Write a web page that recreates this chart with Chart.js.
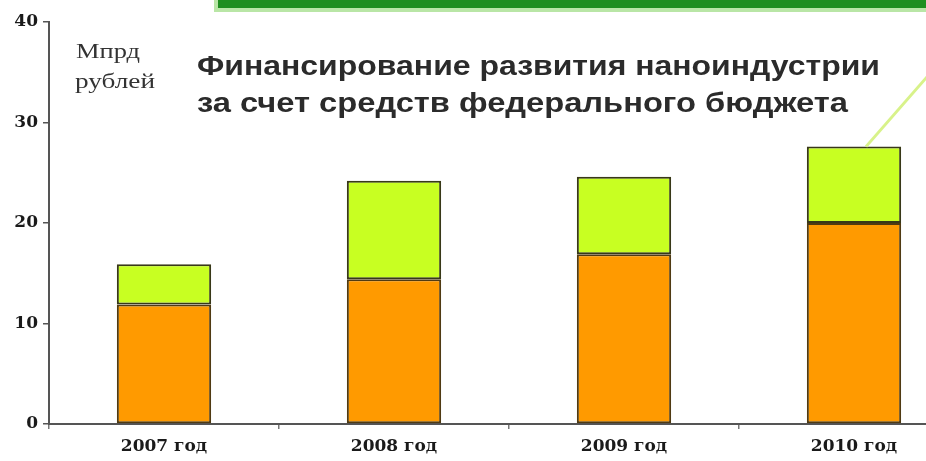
<!DOCTYPE html>
<html>
<head>
<meta charset="utf-8">
<script src="https://cdn.jsdelivr.net/npm/chart.js@4.4.1/dist/chart.umd.min.js"></script>
<style>
  html, body { margin: 0; padding: 0; background: #fff; }
  #wrap { position: relative; width: 926px; height: 461px; overflow: hidden; }
  #box { position: absolute; left: 0; top: 0; width: 970px; height: 461px; }
</style>
</head>
<body>
<div id="wrap"><div id="box"><canvas id="c"></canvas></div></div>
<script>
// Federal budget funding of the nanoindustry, bn roubles
const categories = ['2007 год', '2008 год', '2009 год', '2010 год'];
const baseFunding = [11.9, 14.4, 16.9, 20.0];
const extraFunding = [4.0, 9.8, 7.7, 7.6];
const yTicks = [0, 10, 20, 30, 40];
const titleLines = ['Финансирование развития наноиндустрии', 'за счет средств федерального бюджета'];
const unitLines = ['Мпрд', 'рублей'];

// draws a line of text stretched horizontally to a given width
function wideText(ctx, text, x, y, width) {
  const w = ctx.measureText(text).width;
  ctx.save();
  ctx.translate(x, y);
  ctx.scale(width / w, 1);
  ctx.fillText(text, 0, 0);
  ctx.restore();
}

const decor = {
  id: 'decor',
  afterDraw(chart) {
    const ctx = chart.ctx;
    ctx.save();
    // slide header band
    ctx.fillStyle = '#b9e6a6';
    ctx.fillRect(214, 0, 760, 12);
    ctx.fillStyle = '#1f8f1f';
    ctx.fillRect(218, 0, 760, 8);
    // pointer line from the last bar
    const meta = chart.getDatasetMeta(1).data[3];
    ctx.strokeStyle = '#d8f28a';
    ctx.lineWidth = 3;
    ctx.beginPath();
    ctx.moveTo(meta.x + 12, meta.y);
    ctx.lineTo(meta.x + 75, meta.y - 72);
    ctx.stroke();
    // unit caption
    ctx.fillStyle = '#333';
    ctx.font = '20px "Liberation Serif", serif';
    ctx.textBaseline = 'alphabetic';
    wideText(ctx, unitLines[0], 76, 58, 64);
    wideText(ctx, unitLines[1], 75, 88, 80);
    // title
    ctx.fillStyle = '#2b2b2b';
    ctx.font = 'bold 27px "Liberation Sans", Arial, sans-serif';
    wideText(ctx, titleLines[0], 197, 75, 683);
    wideText(ctx, titleLines[1], 197, 112, 651);
    ctx.restore();
  }
};

new Chart(document.getElementById('c'), {
  type: 'bar',
  data: {
    labels: categories,
    datasets: [
      { data: baseFunding, backgroundColor: '#ff9a00', borderColor: '#4f3a12', borderWidth: 2, borderSkipped: false },
      { data: extraFunding, backgroundColor: '#c8ff22', borderColor: '#383818', borderWidth: 2, borderSkipped: false }
    ]
  },
  options: {
    responsive: true,
    maintainAspectRatio: false,
    animation: false,
    datasets: { bar: { barPercentage: 0.41, categoryPercentage: 1 } },
    layout: { padding: { top: 22, right: 1, left: 0, bottom: 0 } },
    plugins: { legend: { display: false }, tooltip: { enabled: false }, title: { display: false } },
    scales: {
      x: {
        stacked: true,
        grid: { drawOnChartArea: false, offset: true, tickLength: 5, color: '#777', lineWidth: 1.5 },
        border: { color: '#555', width: 2 },
        ticks: { color: '#1a1a1a', padding: 7, font: { family: '"DejaVu Serif", serif', size: 17, weight: 'bold' } },
        afterFit(s) { s.height = 37; }
      },
      y: {
        stacked: true,
        min: 0, max: 40,
        afterBuildTicks(s) { s.ticks = yTicks.map(v => ({ value: v })); },
        grid: { drawOnChartArea: false, tickLength: 6, color: '#555', lineWidth: 1.5 },
        border: { color: '#555', width: 2 },
        ticks: { color: '#1a1a1a', padding: 5, font: { family: '"DejaVu Serif", serif', size: 17, weight: 'bold' } },
        afterFit(s) { s.width = 49; }
      }
    }
  },
  plugins: [decor]
});
</script>
</body>
</html>
